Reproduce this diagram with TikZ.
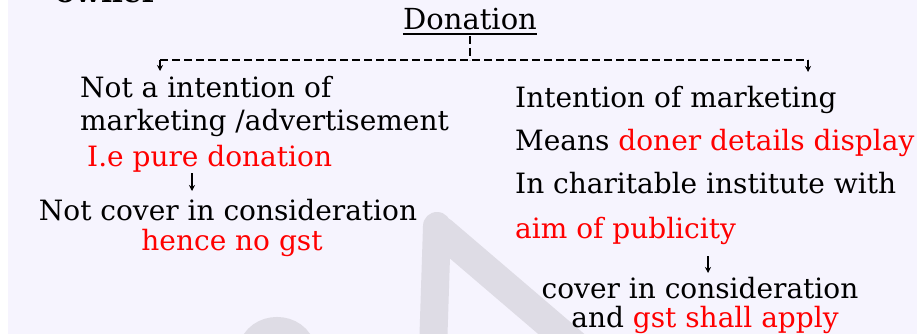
\documentclass[tikz,border=0pt]{standalone}
\usepackage{fontspec}
\setmainfont{DejaVu Serif}
\usetikzlibrary{arrows.meta}
\definecolor{bgc}{HTML}{F6F4FE}
\definecolor{wmc}{HTML}{DEDCE5}
\definecolor{redt}{HTML}{FF0000}
\tikzset{
  txt/.style={inner sep=0pt, anchor=base west, font=\fontsize{28}{33}\selectfont, text=black},
  ctxt/.style={inner sep=0pt, anchor=base, font=\fontsize{28}{33}\selectfont, text=black},
  dashline/.style={line width=1.4pt, dash pattern=on 8pt off 4pt},
  tip/.style={line width=1.4pt, -{Stealth[length=6pt,width=6pt]}},
  wm/.style={draw=wmc, line cap=round},
}
\begin{document}
\begin{tikzpicture}[x=1pt,y=-1pt]
\useasboundingbox (0,0) rectangle (917,334);
\clip (0,0) rectangle (917,334);
\fill[white] (0,0) rectangle (917,334);
\fill[bgc] (8,0) rectangle (917,334);
% watermark
\draw[wm, line width=28pt] (437,226) -- (433,350);
\draw[wm, line width=30pt] (442,232) -- (580,350);
\draw[wm, line width=24pt] (250,350) .. controls (256,322) and (298,322) .. (304,350);
% cut-off heading
\node[inner sep=0pt, anchor=base west, font=\bfseries\fontsize{30}{36}\selectfont] (own) at (55,3) {owner};
% title
\node[ctxt, font=\fontsize{29}{34}\selectfont] (don) at (470,30) {Donation};
\draw[line width=1.5pt] ([yshift=-4pt]don.base west) -- ([yshift=-4pt]don.base east);
\coordinate (j) at (470,60);
\coordinate (jl) at (160,60);
\coordinate (jr) at (808,60);
\coordinate (al) at (160,71);
\coordinate (ar) at (808,72);
\draw[dashline] ([yshift=-6pt]don.base) -- (j);
\draw[dashline] (jl) -- (jr);
\draw[tip] (jl) -- (al);
\draw[tip] (jr) -- (ar);
% left branch
\node[txt] (l1) at (80,98) {Not a intention of};
\node[txt] (l2) at (80,130) {marketing /advertisement};
\node[txt, text=redt] (l3) at (87,166) {I.e pure donation};
\coordinate (la1) at (192,173);
\coordinate (la2) at (192,191);
\draw[tip] (la1) -- (la2);
\node[ctxt] (l4) at (228,220) {Not cover in consideration};
\node[ctxt, text=redt] (l5) at (232,250) {hence no gst};
% right branch
\node[txt] (r1) at (515,108) {Intention of marketing};
\node[txt] (r2) at (515,150) {Means \textcolor{redt}{doner details display}};
\node[txt] (r3) at (515,193) {In charitable institute with};
\node[txt, text=redt] (r4) at (515,238) {aim of publicity};
\coordinate (ra1) at (708,256);
\coordinate (ra2) at (708,273);
\draw[tip] (ra1) -- (ra2);
\node[ctxt] (r5) at (700,298) {cover in consideration};
\node[ctxt] (r6) at (705,327) {and \textcolor{redt}{gst shall apply}};
\end{tikzpicture}
\end{document}
